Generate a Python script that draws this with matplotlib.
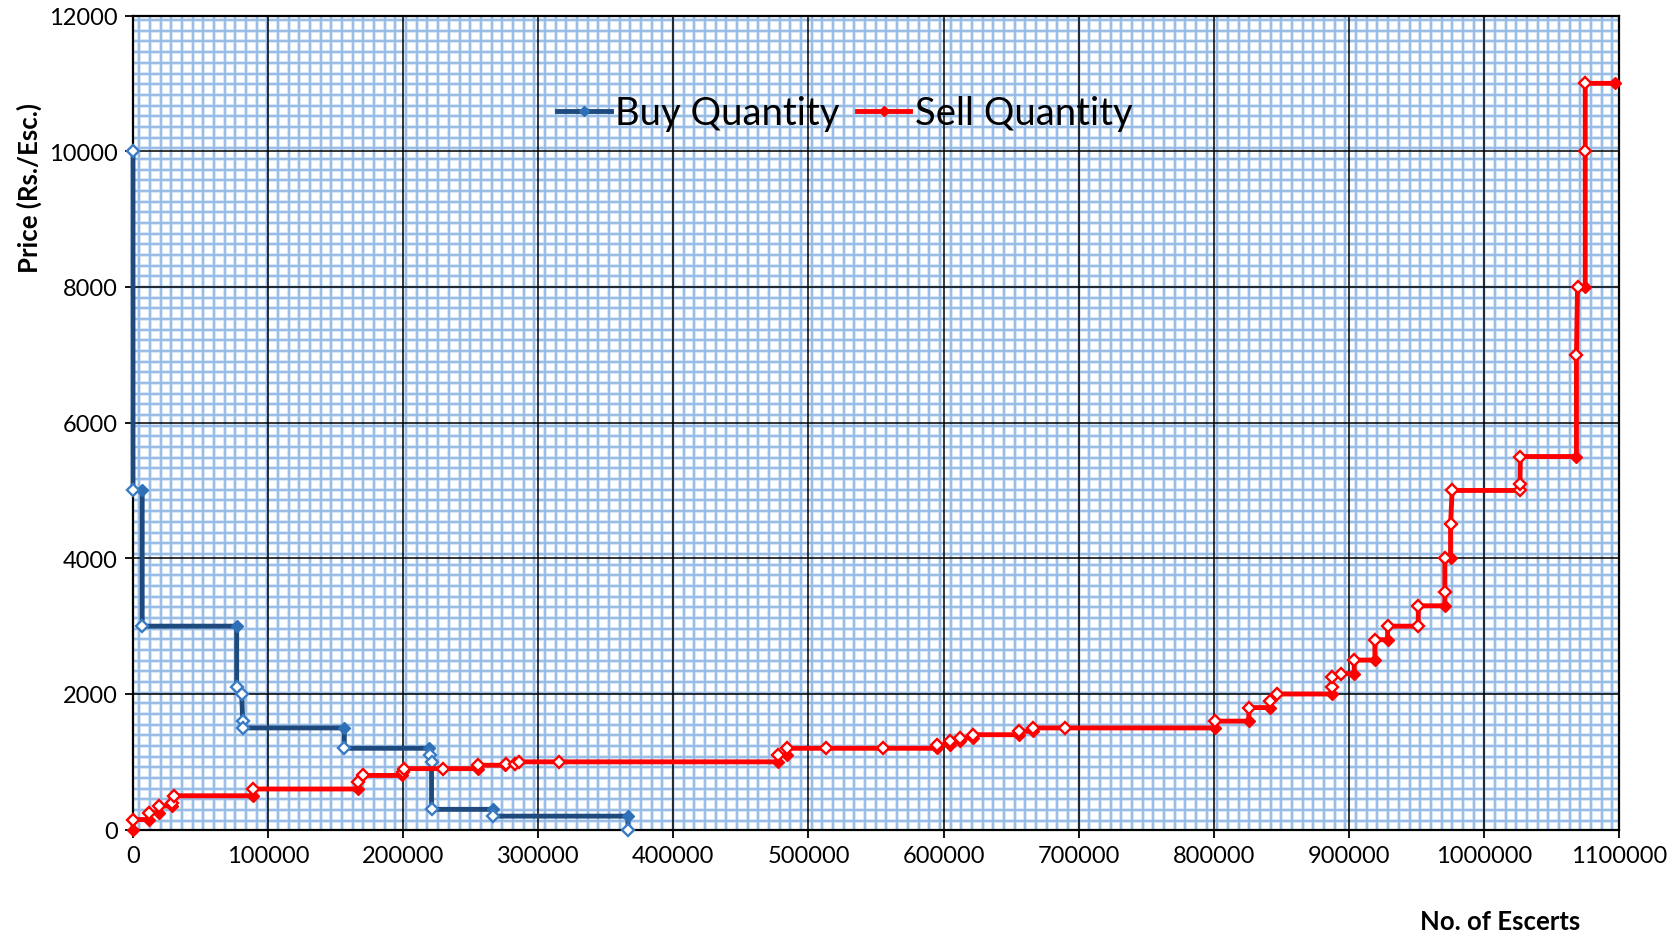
import numpy as np
import matplotlib
matplotlib.use("Agg")
import matplotlib.pyplot as plt
from matplotlib.lines import Line2D
from matplotlib.collections import LineCollection

plt.rcParams['font.family'] = ['Lato', 'DejaVu Sans']

# ---------------- data ----------------
buy_x = [0, 0, 6800, 6800, 76750, 76750, 80450, 81200, 81200, 156400, 156400,
         219300, 219800, 221000, 221000, 266300, 266300, 366400, 366400]
buy_y = [10000, 5000, 5000, 3000, 3000, 2100, 2000, 1600, 1500, 1500, 1200,
         1200, 1100, 1000, 300, 300, 200, 200, 0]
buy_corner = [0, 0, 1, 0, 1, 0, 0, 0, 0, 1, 0,
              1, 0, 0, 0, 1, 0, 1, 0]

sell_x = [0, 0, 12000, 12000, 19000, 19000, 29000, 29000, 30000, 89000, 89000,
          166800, 166800, 170500, 198900, 199500, 200600, 229700, 255600, 255600,
          275400, 276100, 282800, 285700, 315600, 477700, 477700, 484300, 484300,
          512700, 554900, 595300, 595300, 604700, 604700, 612100, 612100, 622000,
          622000, 656000, 656000, 666400, 666400, 689800, 800600, 800600, 826000,
          826000, 842000, 842000, 847000, 887700, 887700, 887700, 893900, 904000,
          904000, 919300, 919300, 928700, 928700, 951400, 951400, 971100, 971100,
          971100, 975300, 975300, 976500, 1026700, 1026700, 1027000, 1068500,
          1068500, 1069300, 1075000, 1075000, 1075000, 1097200]
sell_y = [0, 150, 150, 250, 250, 350, 350, 400, 500, 500, 600,
          600, 700, 800, 800, 850, 900, 900, 900, 950,
          950, 975, 975, 1000, 1000, 1000, 1100, 1100, 1200,
          1200, 1200, 1200, 1250, 1250, 1300, 1300, 1350, 1350,
          1400, 1400, 1450, 1450, 1500, 1500, 1500, 1600, 1600,
          1800, 1800, 1900, 2000, 2000, 2100, 2250, 2300, 2300,
          2500, 2500, 2800, 2800, 3000, 3000, 3300, 3300, 3500,
          4000, 4000, 4500, 5000, 5000, 5100, 5500, 5500,
          7000, 8000, 8000, 10000, 11000, 11000]
sell_corner = [1, 0, 1, 0, 1, 0, 1, 0, 0, 1, 0,
               1, 0, 0, 1, 0, 0, 0, 1, 0,
               1, 0, 0, 0, 0, 1, 0, 1, 0,
               0, 0, 1, 0, 1, 0, 1, 0, 1,
               0, 1, 0, 1, 0, 0, 1, 0, 1,
               0, 1, 0, 0, 1, 0, 0, 0, 1,
               0, 1, 0, 1, 0, 0, 0, 1, 0,
               0, 1, 0, 0, 0, 0, 0, 1,
               0, 0, 1, 0, 0, 1]

x_ticks = list(range(0, 1100001, 100000))
y_ticks = list(range(0, 12001, 2000))
series_names = ["Buy Quantity", "Sell Quantity"]

# ---------------- figure ----------------
W, H = 1681, 937
fig = plt.figure(figsize=(W / 100, H / 100), dpi=100)
L, R, T, B = 133, 1619, 16.5, 830.7
ax = fig.add_axes([L / W, 1 - B / H, (R - L) / W, (B - T) / H])
ax.set_xlim(0, 1100000)
ax.set_ylim(0, 12000)

# graph-paper pattern fill (in axes coordinates)
aw, ah = R - L, B - T
step = 10.674
xs = np.arange(6.3, aw, step) / aw
ys = np.arange(9.0, ah, step) / ah
segs = [[(xv, 0), (xv, 1)] for xv in xs] + [[(0, yv), (1, yv)] for yv in ys]
ax.add_collection(LineCollection(segs, colors='#CFE0F4', linewidths=2.6,
                                 transform=ax.transAxes, zorder=0.2))
ax.add_collection(LineCollection(segs, colors='#94B9E4', linewidths=1.25,
                                 transform=ax.transAxes, zorder=0.3))

ax.set_axisbelow(True)
ax.grid(True, color='black', linewidth=1.1)
ax.set_xticks(x_ticks)
ax.set_yticks(y_ticks)
ax.set_xticklabels([str(v) for v in x_ticks])
ax.set_yticklabels([str(v) for v in y_ticks])
ax.tick_params(axis='both', direction='out', length=6, width=1.3,
               labelsize=17, color='black', pad=5)
for s in ax.spines.values():
    s.set_color('black')
    s.set_linewidth(1.6)

BUY_LINE = '#1F4A7E'
BUY_MK = '#2E70B8'
BUY_OPEN = '#3A7CC4'
RED = '#FF0000'

bx = np.array(buy_x); by = np.array(buy_y); bc = np.array(buy_corner, bool)
sx = np.array(sell_x); sy = np.array(sell_y); sc = np.array(sell_corner, bool)

LW = 3.5
MS = 6.3
ax.plot(bx, by, color=BUY_LINE, lw=LW, zorder=3, solid_joinstyle='miter',
        clip_on=False)
ax.plot(bx[bc], by[bc], ls='none', marker='D', ms=MS, mfc=BUY_MK, mec=BUY_MK,
        mew=1.0, zorder=4, clip_on=False)
ax.plot(bx[~bc], by[~bc], ls='none', marker='D', ms=MS - 0.4, mfc='white',
        mec=BUY_OPEN, mew=1.7, zorder=5, clip_on=False)

ax.plot(sx, sy, color=RED, lw=LW, zorder=6, solid_joinstyle='miter',
        clip_on=False)
ax.plot(sx[sc], sy[sc], ls='none', marker='D', ms=MS, mfc=RED, mec=RED,
        mew=1.0, zorder=7, clip_on=False)
ax.plot(sx[~sc], sy[~sc], ls='none', marker='D', ms=MS - 0.4, mfc='white',
        mec=RED, mew=1.7, zorder=8, clip_on=False)

# legend
handles = [Line2D([0], [0], color=BUY_LINE, lw=LW, marker='D', ms=5,
                  mfc=BUY_MK, mec=BUY_MK),
           Line2D([0], [0], color=RED, lw=LW, marker='D', ms=5,
                  mfc=RED, mec=RED)]
leg = fig.legend(handles, series_names, loc='center',
                 bbox_to_anchor=(845 / W, 1 - 114 / H), ncol=2, frameon=False,
                 prop={'size': 27.5}, handlelength=1.4, handletextpad=0.12,
                 columnspacing=0.45, borderpad=0)
leg.set_zorder(10)

# axis titles
fig.text(1500.5 / W, 1 - 922 / H, "No. of Escerts", ha='center', va='center',
         fontsize=18.5, fontweight='bold')
fig.text(29 / W, 1 - 188 / H, "Price (Rs./Esc.)", ha='center', va='center',
         rotation=90, fontsize=18.5, fontweight='bold')

fig.savefig("out.png", dpi=100)
